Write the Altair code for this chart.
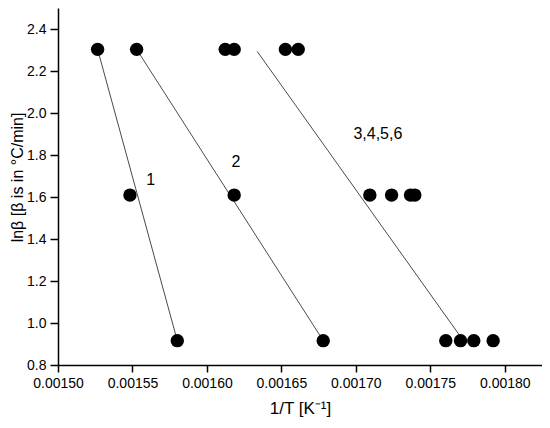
import altair as alt
import pandas as pd

# ln(beta) levels (beta = 2.5, 5, 10 °C/min)
ln_beta = [0.916, 1.609, 2.303]

# 1/T values for each series at the three heating rates (low -> high ln beta)
s1 = [0.0015801, 0.0015483, 0.0015266]
s2 = [0.0016781, 0.0016183, 0.0015528]
s3 = [0.0017604, 0.0017094, 0.0016123]
s4 = [0.0017703, 0.0017240, 0.0016183]
s5 = [0.0017792, 0.0017367, 0.0016527]
s6 = [0.0017922, 0.0017396, 0.0016613]

# fitted lines (start/end)
fit_x1 = [0.0015266, 0.0015528, 0.0016338]
fit_y1 = [2.303, 2.303, 2.293]
fit_x2 = [0.0015801, 0.0016781, 0.0017720]
fit_y2 = [0.916, 0.916, 0.918]

# annotations
ann_text = ["1", "2", "3,4,5,6"]
ann_x = [0.0015622, 0.0016195, 0.0017148]
ann_y = [1.681, 1.767, 1.900]

x_ticks = [0.0015 + i * 0.000025 for i in range(14)]
y_ticks = [round(0.8 + i * 0.1, 2) for i in range(18)]

rows = []
for name, s in zip(["1", "2", "3", "4", "5", "6"], [s1, s2, s3, s4, s5, s6]):
    for xv, yv in zip(s, ln_beta):
        rows.append({"series": name, "x": xv, "y": yv})
pts = pd.DataFrame(rows)
fits = pd.DataFrame({"x": fit_x1, "y": fit_y1, "x2": fit_x2, "y2": fit_y2})
anns = pd.DataFrame({"t": ann_text, "x": ann_x, "y": ann_y})

FONT = "Liberation Sans"
xmajor = "abs(datum.value*20000 - round(datum.value*20000)) < 0.01"
ymajor = "abs(datum.value*5 - round(datum.value*5)) < 0.01"

xscale = alt.Scale(domain=[0.0015, 0.001825], nice=False, zero=False)
yscale = alt.Scale(domain=[0.8, 2.5], nice=False, zero=False)

xaxis = alt.Axis(
    values=x_ticks, grid=False,
    labelExpr=f"({xmajor}) ? format(datum.value, '.5f') : ''",
    tickSize={"condition": {"test": xmajor, "value": 7}, "value": 4},
    title="1/T [K⁻¹]", titleFont=FONT, titleFontSize=17, titleFontWeight="normal",
    titleColor="#000", titlePadding=10,
    labelFont=FONT, labelFontSize=14, labelColor="#000", labelPadding=4,
    domainColor="#000", domainWidth=1.5, tickColor="#000", tickWidth=1.5,
    labelFlush=False, labelOverlap=False,
)
yaxis = alt.Axis(
    values=y_ticks, grid=False,
    labelExpr=f"({ymajor}) ? format(datum.value, '.1f') : ''",
    tickSize={"condition": {"test": ymajor, "value": 8}, "value": 5},
    title="lnβ [β is in °C/min]", titleFont=FONT, titleFontSize=16, titleFontWeight="normal",
    titleColor="#000", titleX=-36, titleY=169, titleBaseline="alphabetic",
    labelFont=FONT, labelFontSize=14, labelColor="#000", labelPadding=4,
    domainColor="#000", domainWidth=1.5, tickColor="#000", tickWidth=1.5,
    labelFlush=False, labelOverlap=False,
)

base_x = alt.X("x:Q", scale=xscale, axis=xaxis)
base_y = alt.Y("y:Q", scale=yscale, axis=yaxis)

lines = alt.Chart(fits).mark_rule(color="#4a4a4a", strokeWidth=1).encode(
    x=base_x, y=base_y, x2="x2:Q", y2="y2:Q"
)
points = alt.Chart(pts).mark_circle(size=180, color="#000", opacity=1).encode(
    x="x:Q", y="y:Q"
)
labels = alt.Chart(anns).mark_text(font=FONT, fontSize=16, color="#000").encode(
    x="x:Q", y="y:Q", text="t:N"
)

chart = alt.layer(lines, points, labels).properties(
    width=484, height=357,
    autosize=alt.AutoSizeParams(type="none"),
    padding={"left": 50, "top": 0, "right": 0, "bottom": 60},
).configure_view(stroke=None)

chart.save("out.html", embed_options={"renderer": "svg", "actions": False})
